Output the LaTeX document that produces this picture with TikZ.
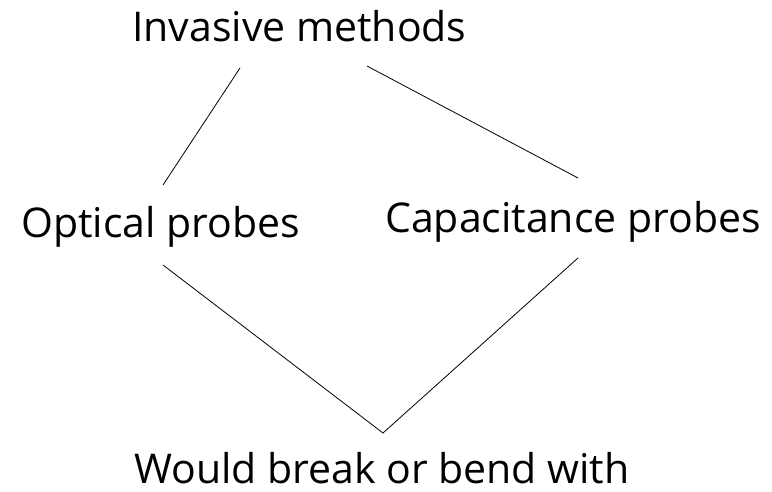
\documentclass[tikz,border=0pt]{standalone}
\usepackage{fontspec}
\setmainfont{Open Sans}
\begin{document}
\begin{tikzpicture}[x=1pt,y=-1pt,
  lbl/.style={anchor=base west,inner sep=0pt,font=\fontsize{41}{48}\selectfont},
  conn/.style={draw=black,line width=0.8pt}]
\useasboundingbox (0,0) rectangle (772,492);
\node[lbl] (inv) at (132,42) {Invasive methods};
\node[lbl] (opt) at (21,237) {Optical probes};
\node[lbl] (cap) at (385,233) {Capacitance probes};
\node[lbl] (wou) at (134,483) {Would break or bend with};
\coordinate (a1) at (240,68);
\coordinate (a2) at (163,185);
\coordinate (b1) at (367,66);
\coordinate (b2) at (578,178);
\coordinate (c1) at (163,265);
\coordinate (c2) at (383,433);
\coordinate (d2) at (578,258);
\draw[conn] (a1) -- (a2);
\draw[conn] (b1) -- (b2);
\draw[conn] (c1) -- (c2) -- (d2);
\end{tikzpicture}
\end{document}
